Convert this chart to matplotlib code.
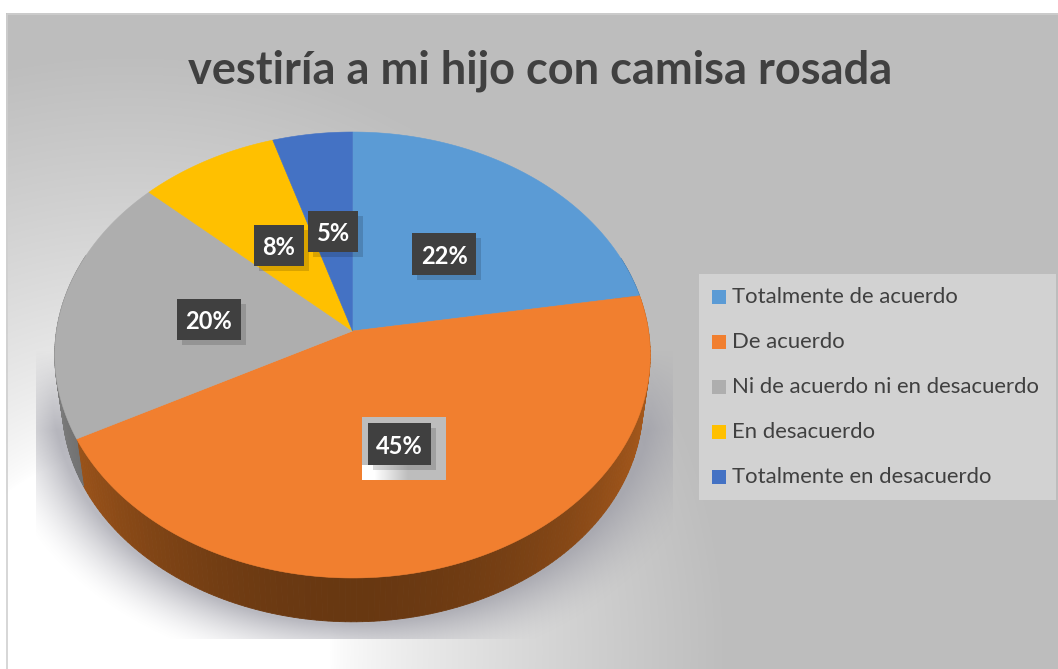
import numpy as np
import matplotlib
matplotlib.use("Agg")
import matplotlib.pyplot as plt
from matplotlib.patches import Rectangle

title = "vestiría a mi hijo con camisa rosada"
categories = ["Totalmente de acuerdo", "De acuerdo", "Ni de acuerdo ni en desacuerdo",
              "En desacuerdo", "Totalmente en desacuerdo"]
values = [22.4, 44.9, 19.5, 8.4, 4.8]
colors = ["#5b9bd5", "#f17f2f", "#aeaeae", "#ffc000", "#4472c4"]
rim_colors = ["#3a6a94", "#a85a1c", "#7c7c7c", "#a88000", "#2f5090"]

# label boxes in pixels: left, top, right, bottom
label_boxes = [(412, 233, 476, 275), (368, 423, 431, 465), (177, 299, 241, 340),
               (254, 225, 304, 266), (308, 211, 358, 252)]

W, H = 1058, 669
CX, CY = 352.5, 331
RX, RY, K = 296, 220.4, 0.1076
plt.rcParams['font.family'] = ['Lato', 'DejaVu Sans']


def project(theta):
    # clockwise from top, with a bit of perspective so the apex sits above the ellipse centre
    a, b = np.sin(theta), np.cos(theta)
    w = 1 + K * b
    return CX + RX * a / w, CY - RY * b / w


fig = plt.figure(figsize=(W / 100, H / 100), dpi=100)
ax = fig.add_axes([0, 0, 1, 1])

# background glow
yy, xx = np.mgrid[0:H, 0:W]
dist = np.hypot(xx - 130, yy - 650)
t = np.clip((dist - 200) / 400, 0, 1) ** 0.75
bg = 255 - (255 - 189) * t
bg_rgb = np.dstack([bg, bg, bg]) / 255
ax.imshow(bg_rgb, extent=(0, W, H, 0), aspect="auto", zorder=0, interpolation="bilinear")

# shadow under the pie
d = (np.sqrt(((xx - 352) / 300) ** 2 + ((yy - 392) / 232) ** 2) - 1) * 260
alpha = np.clip(1 - d / 60, 0, 1) ** 1.6 * np.clip((yy - 350) / 80, 0, 1) * 0.7
alpha[(xx < 36) | (xx > 672) | (yy > 638)] = 0
shadow = np.zeros((H, W, 4))
shadow[..., :3] = np.array([155, 155, 165]) / 255
shadow[..., 3] = alpha
ax.imshow(shadow, extent=(0, W, H, 0), aspect="auto", zorder=1)

# white margin and thin frame
ax.add_patch(Rectangle((0, 0), W, 13, fc="white", ec="none", zorder=2))
ax.add_patch(Rectangle((0, 0), 6, H, fc="white", ec="none", zorder=2))
ax.plot([6.5, 6.5, W], [H, 13.5, 13.5], color="#cfcfcf", lw=1.2, zorder=2)

# pie
fractions = np.array(values) / sum(values)
edges = np.concatenate([[0], np.cumsum(fractions)]) * 2 * np.pi

for i in range(len(values)):
    th = np.linspace(edges[i], edges[i + 1], 160)
    x, y = project(th)
    # side wall, darkest at the front
    xb = CX + (x - CX) * 0.975
    yb = CY + (y - CY) * 0.975 + 50
    for j in range(len(th) - 1):
        if np.cos(th[j]) > 0.35:
            continue
        shade = 0.62 + 0.38 * abs(np.sin(th[j])) ** 2
        rgb = np.array(matplotlib.colors.to_rgb(rim_colors[i])) * shade
        ax.fill([x[j], x[j + 1], xb[j + 1], xb[j]], [y[j], y[j + 1], yb[j + 1], yb[j]],
                color=rgb, lw=0.6, zorder=3)

for i in range(len(values)):
    th = np.linspace(edges[i], edges[i + 1], 160)
    x, y = project(th)
    ax.fill(np.r_[CX, x], np.r_[CY, y], color=colors[i], lw=0.4, zorder=4)

# 45% label sits on a leftover patch of the background
ax.add_patch(Rectangle((362, 417), 84, 63, fc="#bdbdbd", ec="none", zorder=5))
patch_grad = np.clip((np.linspace(0, 1, 84) - 0.15) / 0.4, 0, 1)[None, :] * np.linspace(1, 1, 15)[:, None]
patch_v = 1 - (1 - 189 / 255) * patch_grad
ax.imshow(np.dstack([patch_v] * 3), extent=(362, 446, 480, 465), aspect="auto", zorder=5)

# data labels
for v, (l, t_, r, b) in zip(values, label_boxes):
    ax.add_patch(Rectangle((l + 5, t_ + 5), r - l, b - t_, fc="black", alpha=0.15, ec="none", zorder=6))
    ax.add_patch(Rectangle((l, t_), r - l, b - t_, fc="#404040", ec="none", zorder=7))
    ax.text((l + r) / 2, (t_ + b) / 2 + 2, f"{v:.0f}%", color="white", fontsize=17, fontweight="bold",
            ha="center", va="center", zorder=8)

# title
ax.text(540, 71, title, color="#404040", fontsize=32.5, fontweight="bold", ha="center", va="center", zorder=6)

# legend
ax.add_patch(Rectangle((699, 274), 357, 226, fc="#d2d2d2", ec="none", zorder=5))
for i, name in enumerate(categories):
    yc = 297 + i * 45
    ax.add_patch(Rectangle((712, yc - 7), 14, 14, fc=colors[i], ec="none", zorder=6))
    ax.text(732, yc, name, color="#404040", fontsize=15.9, ha="left", va="center", zorder=6)

ax.set_xlim(0, W)
ax.set_ylim(H, 0)
ax.axis("off")
plt.savefig("out.png", dpi=100)
